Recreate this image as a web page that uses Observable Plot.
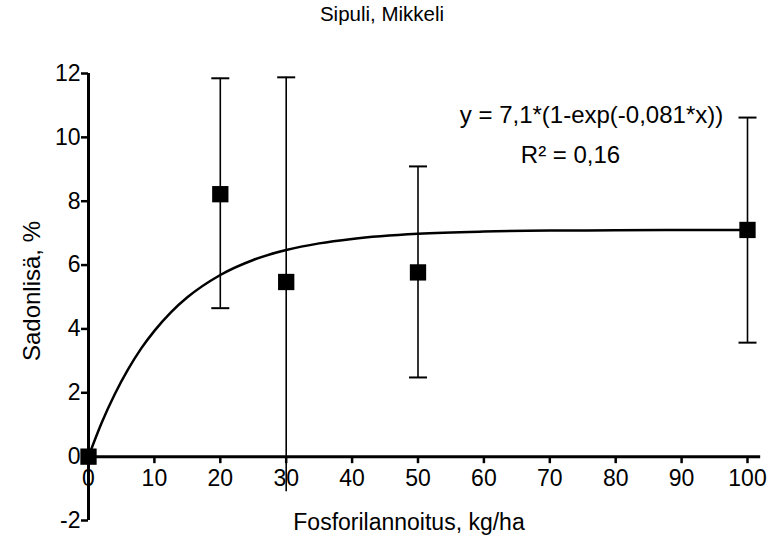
<!DOCTYPE html>
<html>
<head>
<meta charset="utf-8">
<script src="https://cdn.jsdelivr.net/npm/d3@7"></script>
<script src="https://cdn.jsdelivr.net/npm/@observablehq/plot@0.6"></script>
<style>
  html, body { margin: 0; padding: 0; background: #fff; }
  svg { font-family: "Liberation Sans", Arial, sans-serif; }
</style>
</head>
<body>
<div id="chart"></div>
<script>
// Measured data (Fosforilannoitus kg/ha vs Sadonlisä %)
const doses   = [0, 20, 30, 50, 100];
const means   = [0, 8.22, 5.47, 5.77, 7.1];
const lowers  = [null, 4.65, -1.1, 2.48, 3.57];
const uppers  = [null, 11.85, 11.88, 9.09, 10.62];
const lowerCapShown = [false, true, false, true, true];

// Fitted curve
const curveX = [0, 2, 4, 6, 8, 10, 12.5, 15, 20, 25, 30, 35, 40, 50, 60, 70, 80, 90, 100];
const curveY = [0, 1.06, 1.96, 2.73, 3.39, 3.94, 4.52, 4.99, 5.69, 6.16, 6.47, 6.68, 6.82, 6.98, 7.05, 7.08, 7.09, 7.10, 7.10];

const xTicks = [0, 10, 20, 30, 40, 50, 60, 70, 80, 90, 100];
const yTicks = [-2, 0, 2, 4, 6, 8, 10, 12];

const title = "Sipuli, Mikkeli";
const xLabel = "Fosforilannoitus, kg/ha";
const yLabel = "Sadonlisä, %";
const eqText = ["y = 7,1*(1-exp(-0,081*x))", "R\u00b2 = 0,16"];

const points = doses.map((x, i) => ({x, y: means[i], lo: lowers[i], hi: uppers[i], capLo: lowerCapShown[i]}));
const bars = points.filter(d => d.lo != null);
const curve = curveX.map((x, i) => ({x, y: curveY[i]}));

const capSymbol = {
  draw(context, size) {
    const w = Math.sqrt(size / Math.PI);
    context.moveTo(-w, 0);
    context.lineTo(w, 0);
  }
};

const chart = Plot.plot({
  width: 768,
  height: 537,
  marginTop: 73,
  marginBottom: 17,
  marginLeft: 88,
  marginRight: 21,
  style: {fontFamily: "'Liberation Sans', Arial, sans-serif", fontSize: "23px", color: "#000", background: "#fff"},
  x: {domain: [0, 100], axis: null},
  y: {domain: [-2, 12], axis: null},
  marks: [
    // y axis
    Plot.axisY(yTicks, {tickSize: 7, tickPadding: 1, strokeWidth: 2.5, fontSize: 23, label: null, tickFormat: d => String(d)}),
    Plot.ruleX([0], {y1: -2, y2: 12, strokeWidth: 3}),
    // x axis at y = 0
    Plot.ruleY([0], {x1: 0, x2: 102, strokeWidth: 3}),
    Plot.ruleX(xTicks, {x: d => d, y1: 0, y2: -0.22, strokeWidth: 2.5}),
    Plot.text(xTicks, {x: d => d, y: 0, dy: 22, text: d => String(d), fontSize: 23}),
    // fitted curve
    Plot.line(curve, {x: "x", y: "y", curve: "monotone-x", strokeWidth: 2.5}),
    // error bars
    Plot.ruleX(bars, {x: "x", y1: "lo", y2: "hi", strokeWidth: 1.6}),
    Plot.dot(bars, {x: "x", y: "hi", symbol: capSymbol, r: 9, stroke: "black", strokeWidth: 2, fill: "none"}),
    Plot.dot(bars.filter(d => d.capLo), {x: "x", y: "lo", symbol: capSymbol, r: 9, stroke: "black", strokeWidth: 2, fill: "none"}),
    // means
    Plot.dot(points, {x: "x", y: "y", symbol: "square", r: 9.2, fill: "black", stroke: null}),
    // equation
    Plot.text([eqText[0]], {frameAnchor: "top-right", textAnchor: "middle", lineAnchor: "middle", dx: -156, dy: 42, text: d => d, fontSize: 24}),
    Plot.text([eqText[1]], {frameAnchor: "top-right", textAnchor: "middle", lineAnchor: "middle", dx: -177, dy: 82, text: d => d, fontSize: 24}),
    // title & labels
    Plot.text([title], {frameAnchor: "top", lineAnchor: "middle", dy: -59, dx: -36, text: d => d, fontSize: 20.5}),
    Plot.text([xLabel], {frameAnchor: "bottom", lineAnchor: "middle", dy: 2, dx: -9, text: d => d, fontSize: 23}),
    Plot.text([yLabel], {frameAnchor: "left", textAnchor: "middle", lineAnchor: "middle", dx: -56, dy: -6, rotate: -90, text: d => d, fontSize: 24})
  ]
});

document.getElementById("chart").appendChild(chart);
</script>
</body>
</html>
